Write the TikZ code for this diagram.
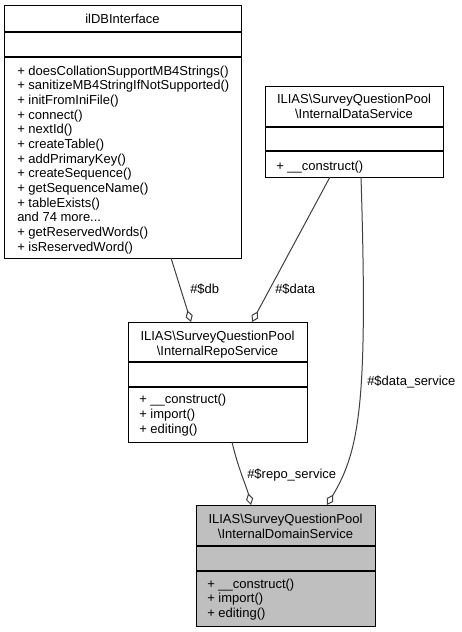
\documentclass[tikz,border=0pt]{standalone}
\usepackage{fontspec}
\setmainfont{Liberation Sans}
\usetikzlibrary{arrows.meta}
\begin{document}
\begin{tikzpicture}[x=0.75pt,y=-0.75pt,
  classbox/.style={draw=black, line width=0.8pt, inner sep=0pt, anchor=north west},
  divider/.style={draw=black, line width=0.8pt},
  txt/.style={anchor=base west, inner sep=0pt, font=\fontsize{9.75pt}{11pt}\selectfont},
  ttl/.style={anchor=base, inner sep=0pt, font=\fontsize{9.75pt}{11pt}\selectfont},
  assoc/.style={draw=black!75, line width=0.75pt, -{Diamond[open, length=9pt, width=5.5pt, line width=0.75pt]}}]
\useasboundingbox (0,0) rectangle (461,632);
\fill[white] (0,0) rectangle (461,632);

% ilDBInterface
\node[classbox, minimum width=177.75pt, minimum height=189.75pt] (A) at (4,5) {};
\draw[divider] (4,32) -- (241,32);
\draw[divider] (4,57) -- (241,57);
\node[ttl] (At) at (122.5,23) {ilDBInterface};
\node[txt] (A1) at (17,75) {+ doesCollationSupportMB4Strings()};
\node[txt] (A2) at (17,89.67) {+ sanitizeMB4StringIfNotSupported()};
\node[txt] (A3) at (17,104.33) {+ initFromIniFile()};
\node[txt] (A4) at (17,119) {+ connect()};
\node[txt] (A5) at (17,133.67) {+ nextId()};
\node[txt] (A6) at (17,148.33) {+ createTable()};
\node[txt] (A7) at (17,163) {+ addPrimaryKey()};
\node[txt] (A8) at (17,177.67) {+ createSequence()};
\node[txt] (A9) at (17,192.33) {+ getSequenceName()};
\node[txt] (A10) at (17,207) {+ tableExists()};
\node[txt] (A11) at (17,221.67) {and 74 more...};
\node[txt] (A12) at (17,236.33) {+ getReservedWords()};
\node[txt] (A13) at (17,251) {+ isReservedWord()};

% InternalDataService
\node[classbox, minimum width=133.5pt, minimum height=68.25pt] (B) at (265,86) {};
\draw[divider] (265,127) -- (443,127);
\draw[divider] (265,151) -- (443,151);
\node[ttl] (Bt1) at (354,103) {ILIAS\textbackslash SurveyQuestionPool};
\node[ttl] (Bt2) at (354,118) {\textbackslash InternalDataService};
\node[txt] (B1) at (276,170) {+ \_\_construct()};

% InternalRepoService
\node[classbox, minimum width=134.25pt, minimum height=90pt] (C) at (128,322) {};
\draw[divider] (128,362) -- (307,362);
\draw[divider] (128,387) -- (307,387);
\node[ttl] (Ct1) at (217.5,340) {ILIAS\textbackslash SurveyQuestionPool};
\node[ttl] (Ct2) at (217.5,355) {\textbackslash InternalRepoService};
\node[txt] (C1) at (139,403) {+ \_\_construct()};
\node[txt] (C2) at (139,418) {+ import()};
\node[txt] (C3) at (139,433) {+ editing()};

% InternalDomainService
\node[classbox, fill=black!25, minimum width=134.25pt, minimum height=90.75pt] (D) at (196,505) {};
\draw[divider] (196,546) -- (375,546);
\draw[divider] (196,571) -- (375,571);
\node[ttl] (Dt1) at (285.5,523) {ILIAS\textbackslash SurveyQuestionPool};
\node[ttl] (Dt2) at (285.5,538) {\textbackslash InternalDomainService};
\node[txt] (D1) at (207,588) {+ \_\_construct()};
\node[txt] (D2) at (207,602.5) {+ import()};
\node[txt] (D3) at (207,617) {+ editing()};

% connector end points
\coordinate (Adb) at (171,258);
\coordinate (Cdb) at (191,322);
\coordinate (Bdata) at (330,177);
\coordinate (Cdata) at (252,322);
\coordinate (Bds) at (361,177);
\coordinate (Dds) at (327,505);
\coordinate (Crs) at (232,442);
\coordinate (Drs) at (251,505);

\draw[assoc] (Adb) -- (Cdb);
\draw[assoc] (Bdata) -- (Cdata);
\draw[assoc] (Bds) .. controls (368,400) and (360,450) .. (Dds);
\draw[assoc] (Crs) .. controls (238,468) and (247,488) .. (Drs);

% labels
\node[txt] (Ldb) at (190,293) {\#\$db};
\node[txt] (Ldata) at (275,293) {\#\$data};
\node[txt] (Lds) at (367,385) {\#\$data\_service};
\node[txt] (Lrs) at (247,478) {\#\$repo\_service};
\end{tikzpicture}
\end{document}
